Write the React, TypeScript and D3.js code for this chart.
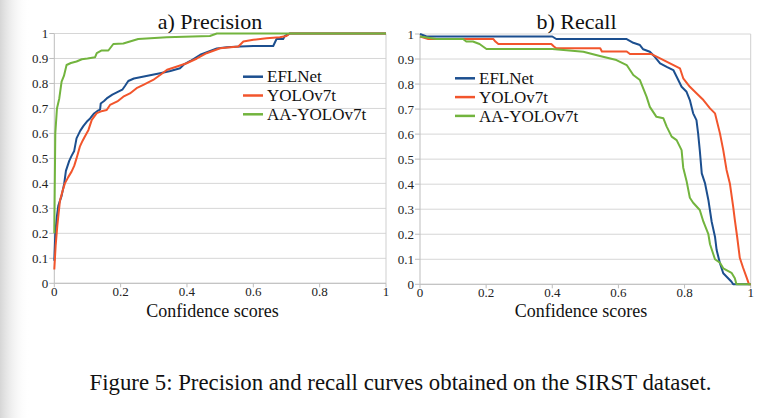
import * as d3 from "d3";

// series, [confidence, value]
const seriesNames = ["EFLNet", "YOLOv7t", "AA-YOLOv7t"];
const seriesColors = ["#1c4f8f", "#f2552c", "#72b43e"];

const precisionEFLNet: [number, number][] = [
  [0, 0.09], [0.003, 0.2], [0.008, 0.27], [0.012, 0.31], [0.022, 0.35], [0.03, 0.4], [0.035, 0.45],
  [0.045, 0.49], [0.052, 0.51], [0.06, 0.53], [0.067, 0.58], [0.078, 0.61], [0.088, 0.63], [0.1, 0.65],
  [0.108, 0.66], [0.12, 0.68], [0.13, 0.69], [0.138, 0.695], [0.14, 0.72], [0.15, 0.73], [0.158, 0.74],
  [0.175, 0.755], [0.19, 0.765], [0.205, 0.775], [0.213, 0.79], [0.223, 0.81], [0.24, 0.82], [0.27, 0.828],
  [0.3, 0.836], [0.319, 0.841], [0.35, 0.85], [0.379, 0.861], [0.39, 0.875], [0.41, 0.89], [0.44, 0.915],
  [0.47, 0.93], [0.49, 0.94], [0.52, 0.945], [0.56, 0.948], [0.6, 0.95], [0.66, 0.95], [0.67, 0.978],
  [0.69, 0.978], [0.695, 0.99], [0.71, 1], [1, 1],
];
const precisionYOLO: [number, number][] = [
  [0, 0.055], [0.004, 0.15], [0.009, 0.23], [0.017, 0.33], [0.025, 0.37], [0.032, 0.4], [0.042, 0.425],
  [0.052, 0.447], [0.06, 0.47], [0.067, 0.5], [0.077, 0.547], [0.085, 0.57], [0.093, 0.59], [0.103, 0.614],
  [0.113, 0.654], [0.128, 0.681], [0.145, 0.69], [0.158, 0.694], [0.168, 0.714], [0.19, 0.728],
  [0.208, 0.747], [0.228, 0.76], [0.248, 0.781], [0.27, 0.795], [0.298, 0.814], [0.32, 0.835],
  [0.34, 0.855], [0.37, 0.868], [0.399, 0.881], [0.43, 0.9], [0.459, 0.921], [0.5, 0.941], [0.555, 0.948],
  [0.57, 0.968], [0.6, 0.975], [0.64, 0.981], [0.68, 0.985], [0.7, 0.99], [0.71, 1], [1, 1],
];
const precisionAA: [number, number][] = [
  [0, 0.2], [0.003, 0.6], [0.008, 0.7], [0.015, 0.74], [0.022, 0.807], [0.029, 0.83], [0.037, 0.874],
  [0.05, 0.882], [0.067, 0.888], [0.083, 0.897], [0.1, 0.9], [0.123, 0.905], [0.128, 0.921],
  [0.143, 0.932], [0.163, 0.932], [0.178, 0.958], [0.208, 0.96], [0.238, 0.972], [0.253, 0.978],
  [0.339, 0.985], [0.469, 0.99], [0.49, 1], [1, 1],
];

const recallEFLNet: [number, number][] = [
  [0, 1], [0.02, 0.99], [0.4, 0.99], [0.412, 0.98], [0.625, 0.98], [0.645, 0.965], [0.665, 0.956],
  [0.675, 0.939], [0.695, 0.929], [0.71, 0.909], [0.726, 0.883], [0.746, 0.869], [0.766, 0.856],
  [0.781, 0.816], [0.791, 0.789], [0.806, 0.769], [0.816, 0.736], [0.826, 0.683], [0.836, 0.656],
  [0.841, 0.603], [0.846, 0.536], [0.852, 0.443], [0.862, 0.403], [0.872, 0.337], [0.882, 0.25],
  [0.892, 0.19], [0.897, 0.137], [0.907, 0.084], [0.917, 0.044], [0.942, 0.01], [0.947, 0], [1, 0],
];
const recallYOLO: [number, number][] = [
  [0, 0.99], [0.025, 0.98], [0.222, 0.98], [0.228, 0.97], [0.237, 0.96], [0.397, 0.96], [0.405, 0.95],
  [0.412, 0.943], [0.545, 0.943], [0.55, 0.93], [0.625, 0.93], [0.635, 0.92], [0.7, 0.92], [0.726, 0.903],
  [0.756, 0.883], [0.786, 0.863], [0.796, 0.823], [0.816, 0.789], [0.836, 0.763], [0.857, 0.736],
  [0.877, 0.703], [0.892, 0.683], [0.907, 0.603], [0.917, 0.536], [0.927, 0.457], [0.937, 0.403],
  [0.947, 0.31], [0.952, 0.257], [0.959, 0.19], [0.967, 0.106], [0.977, 0.066], [0.987, 0.03],
  [0.995, 0], [1, 0],
];
const recallAA: [number, number][] = [
  [0, 0.99], [0.05, 0.98], [0.13, 0.98], [0.14, 0.97], [0.16, 0.97], [0.18, 0.96], [0.201, 0.94],
  [0.4, 0.94], [0.494, 0.929], [0.544, 0.912], [0.594, 0.896], [0.625, 0.876], [0.645, 0.836],
  [0.665, 0.816], [0.685, 0.75], [0.695, 0.709], [0.715, 0.669], [0.736, 0.663], [0.746, 0.63],
  [0.761, 0.59], [0.776, 0.576], [0.791, 0.536], [0.796, 0.466], [0.806, 0.413], [0.816, 0.346],
  [0.826, 0.326], [0.846, 0.297], [0.857, 0.25], [0.872, 0.2], [0.877, 0.16], [0.887, 0.12],
  [0.892, 0.1], [0.907, 0.086], [0.917, 0.064], [0.942, 0.046], [0.952, 0.024], [0.957, 0], [1, 0],
];

const yTicks = [0, 0.1, 0.2, 0.3, 0.4, 0.5, 0.6, 0.7, 0.8, 0.9, 1];
const xTicks = [0, 0.2, 0.4, 0.6, 0.8, 1];

const serif = "'Liberation Serif', 'Times New Roman', serif";

interface PanelProps {
  title: string;
  left: number;
  right: number;
  top: number;
  bottom: number;
  titleX: number;
  axisTitleX: number;
  legendX: number;
  legendY: number;
  series: [number, number][][];
}

function Panel({ title, left, right, top, bottom, titleX, axisTitleX, legendX, legendY, series }: PanelProps) {
  const x = d3.scaleLinear().domain([0, 1]).range([left, right]);
  const y = d3.scaleLinear().domain([0, 1]).range([bottom, top]);
  const line = d3
    .line<[number, number]>()
    .x((d) => x(d[0]))
    .y((d) => y(d[1]));

  return (
    <g>
      <text x={titleX} y={29} textAnchor="middle" fontFamily={serif} fontSize={22} fill="#111">
        {title}
      </text>

      {/* grid */}
      {yTicks.map((t) => (
        <line key={"g" + t} x1={left} x2={right} y1={y(t)} y2={y(t)} stroke="#d6d6d6" strokeWidth={1} />
      ))}
      <line x1={right} x2={right} y1={top} y2={bottom} stroke="#cfcfcf" strokeWidth={1} />
      <line x1={left} x2={left} y1={top} y2={bottom} stroke="#bdbdbd" strokeWidth={1} />
      <line x1={left} x2={right} y1={bottom} y2={bottom} stroke="#bdbdbd" strokeWidth={1} />

      {/* y axis */}
      {yTicks.map((t) => (
        <g key={"y" + t}>
          <line x1={left - 5} x2={left} y1={y(t)} y2={y(t)} stroke="#bdbdbd" />
          <text
            x={left - 6}
            y={y(t)}
            dy="0.35em"
            textAnchor="end"
            fontFamily={serif}
            fontSize={13}
            fill="#222"
          >
            {d3.format("~g")(t)}
          </text>
        </g>
      ))}

      {/* x axis */}
      {xTicks.map((t) => (
        <g key={"x" + t}>
          <line x1={x(t)} x2={x(t)} y1={bottom} y2={bottom + 4} stroke="#bdbdbd" />
          <text x={x(t)} y={bottom + 13} textAnchor="middle" fontFamily={serif} fontSize={13} fill="#222">
            {d3.format("~g")(t)}
          </text>
        </g>
      ))}
      <text x={axisTitleX} y={316.5} textAnchor="middle" fontFamily={serif} fontSize={18} fill="#111">
        Confidence scores
      </text>

      {/* curves */}
      {series.map((s, i) => (
        <path
          key={"s" + i}
          d={line(s) || ""}
          fill="none"
          stroke={seriesColors[i]}
          strokeWidth={2}
          strokeLinejoin="round"
        />
      ))}

      {/* legend */}
      {seriesNames.map((name, i) => (
        <g key={name} transform={`translate(${legendX}, ${legendY + i * 18.8})`}>
          <line x1={0} x2={20} y1={0} y2={0} stroke={seriesColors[i]} strokeWidth={2.5} />
          <text x={24} y={0} dy="0.33em" fontFamily={serif} fontSize={17} fill="#111">
            {name}
          </text>
        </g>
      ))}
    </g>
  );
}

export default function App() {
  return (
    <svg
      width={772}
      height={418}
      style={{ position: "absolute", left: 0, top: 0, background: "#fff" }}
    >
      <defs>
        <linearGradient id="shade" x1="0" x2="1" y1="0" y2="0">
          <stop offset="0" stopColor="#d6d6d6" />
          <stop offset="1" stopColor="#ffffff" stopOpacity={0} />
        </linearGradient>
      </defs>
      <rect x={0} y={0} width={772} height={418} fill="#fff" />
      <rect x={0} y={0} width={30} height={418} fill="url(#shade)" />

      <Panel
        title="a) Precision"
        left={54.3}
        right={386}
        top={33.5}
        bottom={283.3}
        titleX={210}
        axisTitleX={212.5}
        legendX={243}
        legendY={76.7}
        series={[precisionEFLNet, precisionYOLO, precisionAA]}
      />
      <Panel
        title="b) Recall"
        left={420}
        right={750.7}
        top={34}
        bottom={284.3}
        titleX={576.5}
        axisTitleX={581}
        legendX={455}
        legendY={78.3}
        series={[recallEFLNet, recallYOLO, recallAA]}
      />

      <text x={400.5} y={390} textAnchor="middle" fontFamily={serif} fontSize={22.8} fill="#111">
        Figure 5: Precision and recall curves obtained on the SIRST dataset.
      </text>
    </svg>
  );
}
